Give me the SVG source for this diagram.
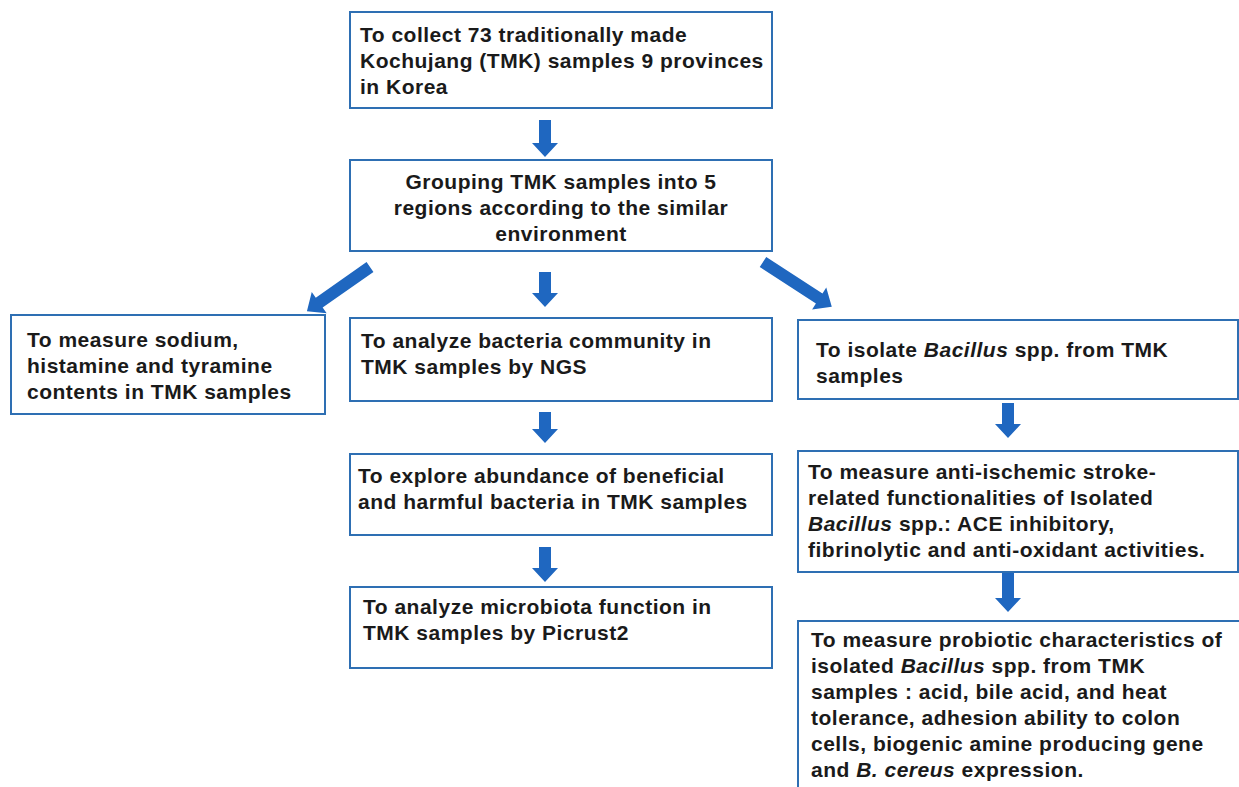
<svg xmlns="http://www.w3.org/2000/svg" width="1239" height="787" viewBox="0 0 1239 787">
<style>
.box{fill:#ffffff;stroke:#2e6fb3;stroke-width:2}
.t{font-family:"Liberation Sans",Arial,sans-serif;font-weight:bold;font-size:21px;fill:#1a1a1a;letter-spacing:0.5px}
.i{font-style:italic}
.arr{fill:#1f67c0}
</style>
<rect width="1239" height="787" fill="#ffffff"/>
<g id="connectors">
<polygon class="arr" points="539,120 551,120 551,143 558,143 545,157 532,143 539,143"/>
<polygon class="arr" points="539,272 551,272 551,293 558,293 545,307 532,293 539,293"/>
<polygon class="arr" points="539,412 551,412 551,429 558,429 545,443 532,429 539,429"/>
<polygon class="arr" points="539,547 551,547 551,568 558,568 545,582 532,568 539,568"/>
<polygon class="arr" points="1002,403 1014,403 1014,424 1021,424 1008,438 995,424 1002,424"/>
<polygon class="arr" points="1002,573 1014,573 1014,598 1021,598 1008,612 995,598 1002,598"/>
<polygon class="arr" transform="translate(370,267) rotate(145)" points="0,-6 62,-6 62,-13 77,0 62,13 62,6 0,6"/>
<polygon class="arr" transform="translate(763,262) rotate(33)" points="0,-6 67,-6 67,-13 82,0 67,13 67,6 0,6"/>
</g>
<g id="n1">
<rect class="box" x="350" y="12" width="422" height="96"/>
<text class="t" x="360" y="42">To collect 73 traditionally made</text>
<text class="t" x="360" y="68">Kochujang (TMK) samples 9 provinces</text>
<text class="t" x="360" y="94">in Korea</text>
</g>
<g id="n2">
<rect class="box" x="350" y="160" width="422" height="91"/>
<text class="t" x="561" y="189" text-anchor="middle">Grouping TMK samples into 5</text>
<text class="t" x="561" y="215" text-anchor="middle">regions according to the similar</text>
<text class="t" x="561" y="241" text-anchor="middle">environment</text>
</g>
<g id="n3">
<rect class="box" x="11" y="315" width="314" height="99"/>
<text class="t" x="27" y="347">To measure sodium,</text>
<text class="t" x="27" y="373">histamine and tyramine</text>
<text class="t" x="27" y="399">contents in TMK samples</text>
</g>
<g id="n4">
<rect class="box" x="350" y="318" width="422" height="83"/>
<text class="t" x="361" y="348">To analyze bacteria community in</text>
<text class="t" x="361" y="374">TMK samples by NGS</text>
</g>
<g id="n5">
<rect class="box" x="350" y="454" width="422" height="81"/>
<text class="t" x="358" y="483">To explore abundance of beneficial</text>
<text class="t" x="358" y="509">and harmful bacteria in TMK samples</text>
</g>
<g id="n6">
<rect class="box" x="350" y="587" width="422" height="81"/>
<text class="t" x="363" y="614">To analyze microbiota function in</text>
<text class="t" x="363" y="640">TMK samples by Picrust2</text>
</g>
<g id="n7">
<rect class="box" x="798" y="320" width="440" height="79"/>
<text class="t" x="816" y="357">To isolate <tspan class="i">Bacillus</tspan> spp. from TMK</text>
<text class="t" x="816" y="383">samples</text>
</g>
<g id="n8">
<rect class="box" x="798" y="451" width="440" height="121"/>
<text class="t" x="808" y="479">To measure anti-ischemic stroke-</text>
<text class="t" x="808" y="505">related functionalities of Isolated</text>
<text class="t" x="808" y="531"><tspan class="i">Bacillus</tspan> spp.: ACE inhibitory,</text>
<text class="t" x="808" y="557">fibrinolytic and anti-oxidant activities.</text>
</g>
<g id="n9">
<rect class="box" x="798" y="621" width="450" height="180"/>
<text class="t" x="811" y="647">To measure probiotic characteristics of</text>
<text class="t" x="811" y="673">isolated <tspan class="i">Bacillus</tspan> spp. from TMK</text>
<text class="t" x="811" y="699">samples : acid, bile acid, and heat</text>
<text class="t" x="811" y="725">tolerance, adhesion ability to colon</text>
<text class="t" x="811" y="751">cells, biogenic amine producing gene</text>
<text class="t" x="811" y="777">and <tspan class="i">B. cereus</tspan> expression.</text>
</g>
</svg>
